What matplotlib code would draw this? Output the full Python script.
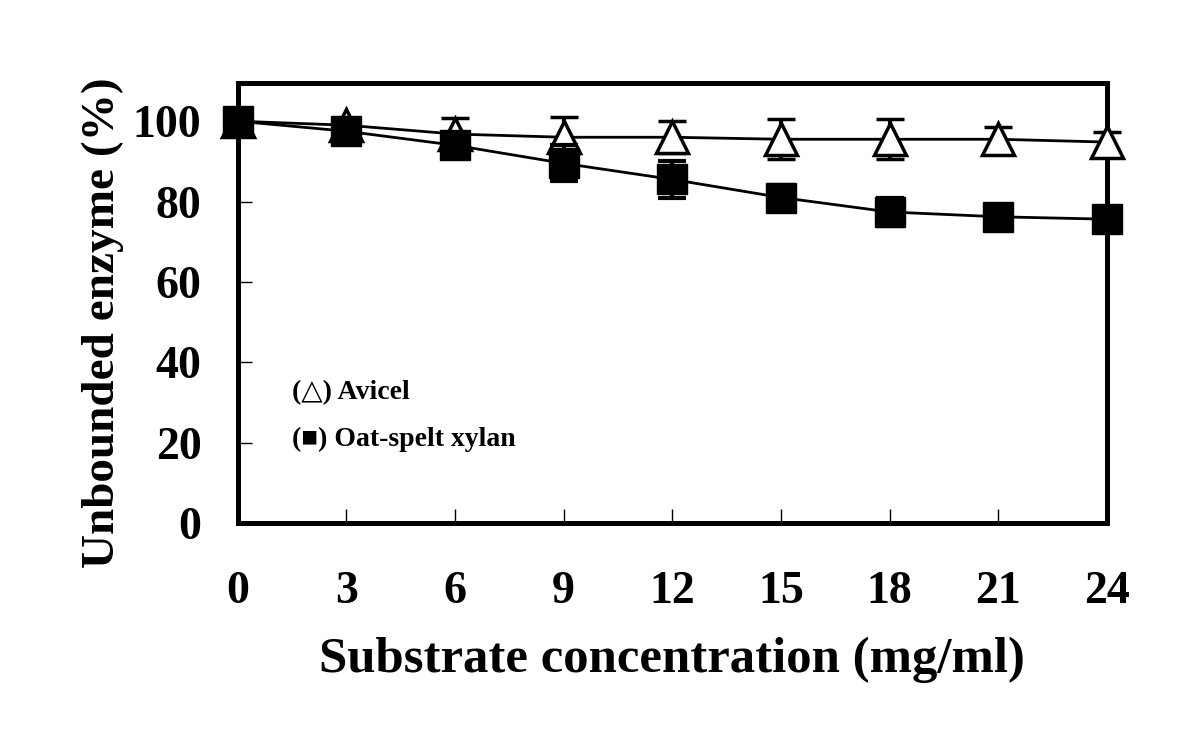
import numpy as np
import matplotlib
matplotlib.use("Agg")
import matplotlib.pyplot as plt

conc = [0, 3, 6, 9, 12, 15, 18, 21, 24]
avicel = [100, 99, 96.8, 96, 96, 95.5, 95.5, 95.5, 94.8]
avicel_err = [1, 1.5, 4, 5, 4, 5, 5, 3, 2.5]
xylan = [100, 97.5, 94, 89.5, 85.5, 81, 77.4, 76.2, 75.6]
xylan_err = [1, 1.5, 2, 4.5, 4.5, 3, 3.5, 2, 2]

plt.rcParams["font.family"] = ["Liberation Serif", "DejaVu Serif"]
plt.rcParams["font.weight"] = "bold"

fig = plt.figure(figsize=(12, 7.48), dpi=100)
ax = fig.add_axes([0.198, 0.301, 0.7245, 0.588])

ax.errorbar(conc, avicel, yerr=avicel_err, marker="^", ms=23, mfc="white", mec="black",
            mew=2.5, color="black", lw=2, elinewidth=3, capsize=10, capthick=3,
            clip_on=False, zorder=3)
ax.errorbar(conc, xylan, yerr=xylan_err, marker="s", ms=21, mfc="black", mec="black",
            color="black", lw=2, elinewidth=3, capsize=10, capthick=3,
            clip_on=False, zorder=4)

ax.set_xlim(0, 24)
ax.set_ylim(0, 109.5)
ax.set_xticks(conc)
ax.set_yticks([0, 20, 40, 60, 80, 100])
ax.tick_params(direction="in", length=10, width=1, labelsize=33)
ax.tick_params(axis="x", pad=35)
ax.tick_params(axis="y", pad=26)
for s in ax.spines.values():
    s.set_linewidth(3.6)

ax.set_xlabel("Substrate concentration (mg/ml)", fontsize=36.5, fontweight="bold", labelpad=17)
ax.set_ylabel("Unbounded enzyme (%)", fontsize=34, fontweight="bold")
ax.yaxis.set_label_coords(-0.131, 0.455)

ax.text(0.063, 0.296, "(\u25b3) Avicel", transform=ax.transAxes, fontsize=20,
        fontweight="bold", va="center", ha="left")
ax.text(0.063, 0.19, "(\u25a0) Oat-spelt xylan", transform=ax.transAxes, fontsize=20,
        fontweight="bold", va="center", ha="left")

fig.savefig("out.png", dpi=100)
